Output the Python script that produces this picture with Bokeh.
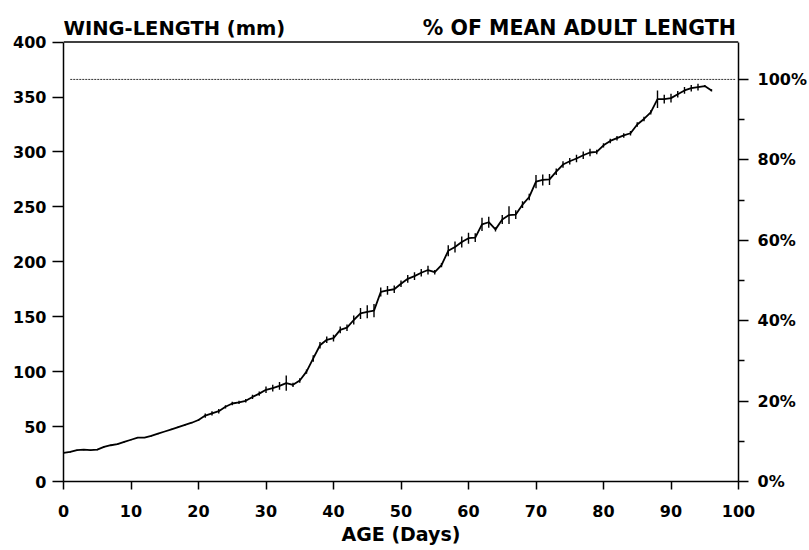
from bokeh.plotting import figure
from bokeh.models import Range1d, LinearAxis, FixedTicker, PrintfTickFormatter
from bokeh.core.properties import value
from bokeh.embed import file_html
from bokeh.resources import INLINE

# ---- data ----
days = list(range(0, 97))
wing_length = [
    26, 27, 28.5, 29, 28.5, 29, 31.5, 33, 34, 36,
    38, 40, 40, 41.5, 43.5, 45.5, 47.5, 49.5, 51.5, 53.5,
    56, 60, 62, 64, 68, 71, 72, 73.5, 77, 80,
    83.5, 85, 87, 89.5, 88, 92, 100, 112, 124, 129,
    130.5, 138, 140, 147, 153, 154.5, 155.5, 172.5, 174, 175,
    180, 184.5, 187, 190, 192.5, 190.5, 197, 210, 213.5, 218,
    221.5, 222, 234, 236, 229.5, 238.5, 242.5, 243, 252, 259,
    273, 274.5, 275, 282, 288.5, 291.5, 294, 297, 299.5, 300,
    306, 310, 312.5, 315, 317, 325, 330, 336, 348, 348,
    349, 352.5, 356, 358, 359, 360, 356,
]
error = [
    0.5, 0.5, 0.5, 0.5, 0.5, 0.5, 0.5, 0.5, 0.5, 0.5,
    0.5, 0.5, 0.5, 0.5, 0.5, 0.5, 0.5, 0.5, 0.5, 0.5,
    1, 2, 2, 2, 1.5, 1.5, 1.5, 1.5, 2, 2,
    3, 3, 3.5, 7, 2, 2, 2, 3, 3, 3,
    3, 3, 3, 4, 5, 6, 6, 4, 4, 3.5,
    3, 3.5, 3.5, 3.5, 4, 2, 2, 5, 5, 5,
    5, 4, 6, 5, 2, 4, 8, 4, 3, 3,
    6, 5, 5, 3, 3, 3, 3.5, 3.5, 3.5, 2,
    2, 2, 2, 2, 2, 2, 2, 2, 8, 4,
    4, 3, 3, 3, 3, 1, 1,
]
ADULT_MEAN = 366          # mm, = 100 %
ref_line_days = [1, 99.5]
X_MAX = 100
Y_MAX = 400
x_ticks = list(range(0, 101, 10))
y_ticks = list(range(0, 401, 50))
pct_ticks = [0, 20, 40, 60, 80, 100]
pct_minor = [10, 30, 50, 70, 90]
left_title = "WING-LENGTH (mm)"
right_title = "% OF MEAN ADULT LENGTH"

FONT = "DejaVu Sans"

# frame extended above 400 so the two header texts sit inside it
PX_PER_MM = 445 / 400.0
TOP_EXTRA = 34 / PX_PER_MM          # room for headers above the 400 line
Y_TOP = Y_MAX + TOP_EXTRA
TITLE_Y = Y_MAX + 14 / PX_PER_MM

p = figure(width=809, height=547, output_backend="svg", toolbar_location=None,
           x_range=Range1d(0, X_MAX), y_range=Range1d(0, Y_TOP),
           min_border_left=63, min_border_right=71, min_border_top=8, min_border_bottom=60)
p.xgrid.visible = False
p.ygrid.visible = False
p.outline_line_color = None
p.background_fill_color = "white"
p.border_fill_color = "white"

# top border of the chart box
p.line([0, X_MAX], [Y_MAX, Y_MAX], line_color="black", line_width=1.5)

# reference (100 %) line
p.line(ref_line_days, [ADULT_MEAN, ADULT_MEAN], line_color="#333333", line_width=1,
       line_dash="2 1")

# error bars and mean curve
lo = [v - e for v, e in zip(wing_length, error)]
hi = [v + e for v, e in zip(wing_length, error)]
p.segment(x0=days, x1=days, y0=lo, y1=hi, line_color="black", line_width=1.4)
p.line(days, wing_length, line_color="black", line_width=1.8)

# header texts
p.text(x=[0], y=[TITLE_Y], text=[left_title], text_font=value(FONT), text_font_style="bold",
       text_font_size="19.5px", text_align="left", text_baseline="alphabetic", text_color="black")
p.text(x=[X_MAX - 0.4], y=[TITLE_Y], text=[right_title], text_font=value(FONT), text_font_style="bold",
       text_font_size="20.5px", text_align="right", text_baseline="alphabetic", text_color="black")

def style_axis(ax, tick_out, standoff):
    ax.axis_line_color = "black"
    ax.axis_line_width = 1.5
    ax.major_tick_line_color = "black"
    ax.major_tick_line_width = 1.5
    ax.major_tick_in = 0
    ax.major_tick_out = tick_out
    ax.minor_tick_line_color = None
    ax.major_label_text_font = FONT
    ax.major_label_text_font_style = "bold"
    ax.major_label_text_font_size = "16px"
    ax.major_label_text_color = "black"
    ax.major_label_standoff = standoff

xa = p.xaxis[0]
xa.ticker = FixedTicker(ticks=x_ticks)
style_axis(xa, 8, 15)
xa.axis_label = "AGE (Days)"
xa.axis_label_text_font = FONT
xa.axis_label_text_font_style = "bold"
xa.axis_label_text_font_size = "19px"
xa.axis_label_text_color = "black"
xa.axis_label_standoff = 3

ya = p.yaxis[0]
ya.ticker = FixedTicker(ticks=y_ticks)
ya.bounds = (0, Y_MAX)
style_axis(ya, 11, 6)

pct_top = Y_TOP / ADULT_MEAN * 100
p.extra_y_ranges = {"pct": Range1d(0, pct_top)}
ra = LinearAxis(y_range_name="pct", ticker=FixedTicker(ticks=pct_ticks, minor_ticks=pct_minor),
                formatter=PrintfTickFormatter(format="%d%%"),
                bounds=(0, Y_MAX / ADULT_MEAN * 100))
style_axis(ra, 10, 9)
ra.minor_tick_line_color = "black"
ra.minor_tick_line_width = 1.5
ra.minor_tick_in = 0
ra.minor_tick_out = 6
p.add_layout(ra, "right")

open("out.html", "w").write(file_html(p, INLINE))
